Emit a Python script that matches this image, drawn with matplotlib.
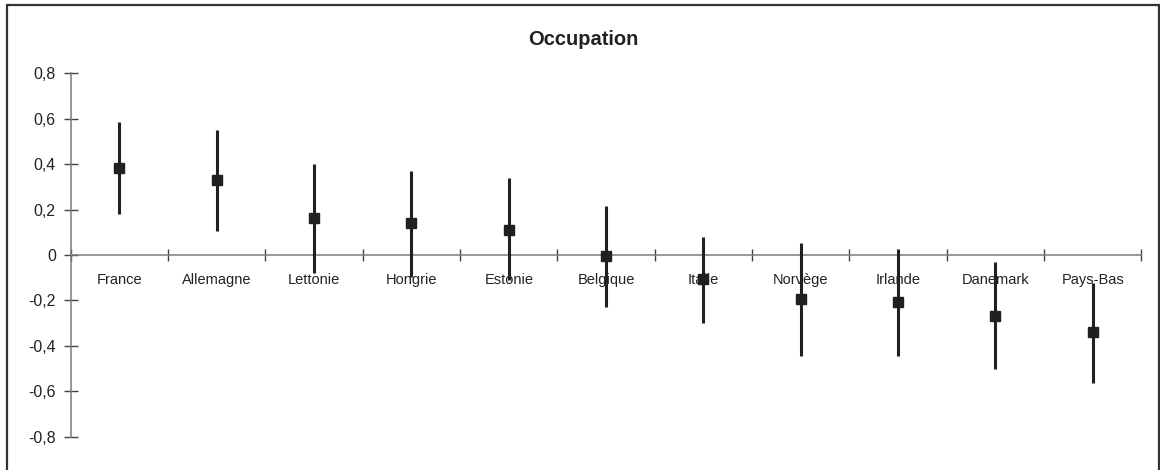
import matplotlib
matplotlib.use("Agg")
import matplotlib.pyplot as plt
from matplotlib.patches import Rectangle
from matplotlib.ticker import FuncFormatter
import numpy as np

# --- Data ---
countries = ["France", "Allemagne", "Lettonie", "Hongrie", "Estonie", "Belgique",
             "Italie", "Norvège", "Irlande", "Danemark", "Pays-Bas"]
estimate = [0.385, 0.330, 0.162, 0.140, 0.110, -0.004, -0.107, -0.195, -0.208, -0.267, -0.338]
upper = [0.587, 0.551, 0.401, 0.371, 0.338, 0.216, 0.081, 0.054, 0.026, -0.032, -0.125]
lower = [0.179, 0.106, -0.081, -0.095, -0.110, -0.228, -0.298, -0.445, -0.445, -0.502, -0.562]
yticks = [-0.8, -0.6, -0.4, -0.2, 0, 0.2, 0.4, 0.6, 0.8]

plt.rcParams['font.family'] = ['Liberation Sans', 'DejaVu Sans']

fig = plt.figure(figsize=(11.6, 4.7), dpi=100)
ax = fig.add_axes([0.061, 0.071, 0.923, 0.773])

x = np.arange(len(countries)) + 0.5
est = np.array(estimate)
err = [est - np.array(lower), np.array(upper) - est]
ax.errorbar(x, est, yerr=err, fmt='s', color='#231f20', ecolor='#231f20',
            markersize=7, elinewidth=2.2, capsize=0, zorder=5, clip_on=False)

# --- Axes styling ---
ax.set_xlim(0, len(countries))
ax.set_ylim(-0.8, 0.8)
for s in ['top', 'right']:
    ax.spines[s].set_visible(False)
ax.spines['bottom'].set_position(('data', 0))
for s in ['left', 'bottom']:
    ax.spines[s].set_color('#7a7a7a')
    ax.spines[s].set_linewidth(1.1)

ax.set_yticks(yticks)
ax.yaxis.set_major_formatter(FuncFormatter(
    lambda v, p: "0" if abs(v) < 1e-9 else f"{v:.1f}".replace(".", ",")))
ax.tick_params(axis='y', direction='inout', length=9.5, width=1, color='#444444',
               labelsize=11.5, pad=6, labelcolor='#222222')

ax.set_xticks(np.arange(len(countries) + 1))
ax.set_xticklabels([])
ax.set_xticks(x, minor=True)
ax.set_xticklabels(countries, minor=True)
ax.tick_params(axis='x', which='major', direction='inout', length=8.5, width=1, color='#444444')
ax.tick_params(axis='x', which='minor', length=0, pad=13, labelsize=10.5, labelcolor='#222222')

fig.text(0.503, 0.917, "Occupation", ha='center', va='center',
         fontsize=14.5, fontweight='bold', color='#222222')

# figure border (open at bottom edge)
fig.patches.append(Rectangle((7 / 1160, -0.02), 1152 / 1160, 1 - 5 / 470 + 0.02,
                             transform=fig.transFigure, fill=False,
                             edgecolor='#333333', linewidth=1.6))

fig.savefig("out.png", dpi=100)
